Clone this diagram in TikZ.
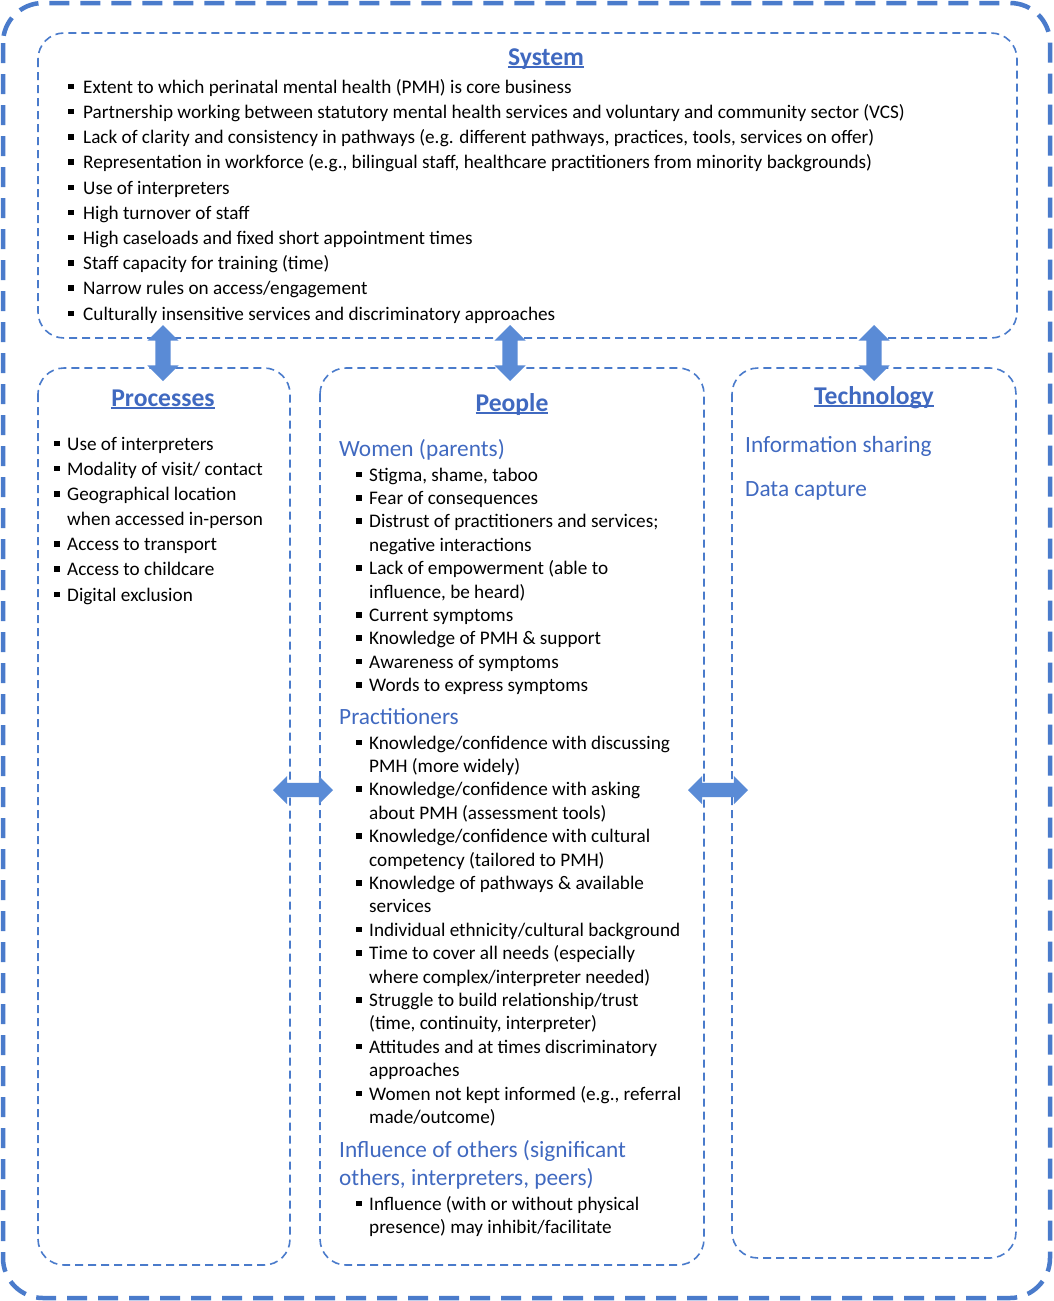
\documentclass[tikz,border=0pt]{standalone}
\usepackage{fontspec}
\setmainfont{Carlito}
\usetikzlibrary{shapes.arrows,positioning}

\definecolor{accent}{HTML}{4069C0}
\definecolor{framecol}{HTML}{4A7BCB}
\definecolor{arrowcol}{HTML}{5A8BD6}

\newlength\bulw
\newcommand\bul{\strut\makebox[\bulw][l]{\raisebox{4pt}{\rule{5.5pt}{5.5pt}}}}
\newcommand\cont{\strut\hspace*{\bulw}}
\newcommand\ulhead[1]{\setbox0\hbox{#1}\rlap{\rule[-3pt]{\wd0}{1.6pt}}\box0}

\begin{document}
\begin{tikzpicture}[
    x=1pt, y=-1pt,
    outerbox/.style={draw=framecol, line width=4.5pt, dash pattern=on 20pt off 11pt, rounded corners=40pt},
    area/.style={draw=framecol, line width=1.6pt, dash pattern=on 8pt off 5pt, rounded corners=26pt},
    heading/.style={anchor=base, inner sep=0, text=accent, font=\fontsize{25.6}{30}\selectfont\bfseries},
    subhead/.style={anchor=base west, inner sep=0, text=accent, align=left, font=\fontsize{23.3}{28}\selectfont},
    items/.style 2 args={anchor=north west, inner sep=0, align=left, font=\fontsize{19.2}{#1}\selectfont\setlength\bulw{#2}},
    dblarrow/.style={double arrow, fill=arrowcol, draw=none, inner xsep=0, inner ysep=7.5pt, double arrow head extend=8pt, minimum height=56pt}
]
\useasboundingbox (0,0) rectangle (1053,1301);

% frames
\draw[outerbox] (3,3) rectangle (1050,1298);
\draw[area] (38,33) rectangle (1017,338);
\draw[area] (38,368) rectangle (290,1265);
\draw[area] (320,368) rectangle (704,1265);
\draw[area] (732,368) rectangle (1016,1258);

% system
\node[heading] (system) at (546,65) {\ulhead{System}};
\node[items={25.2}{15pt}] (syslist) at (68,75.4) {%
\bul Extent to which perinatal mental health (PMH) is core business\\
\bul Partnership working between statutory mental health services and voluntary and community sector (VCS)\\
\bul Lack of clarity and consistency in pathways (e.g. different pathways, practices, tools, services on offer)\\
\bul Representation in workforce (e.g., bilingual staff, healthcare practitioners from minority backgrounds)\\
\bul Use of interpreters\\
\bul High turnover of staff\\
\bul High caseloads and fixed short appointment times\\
\bul Staff capacity for training (time)\\
\bul Narrow rules on access/engagement\\
\bul Culturally insensitive services and discriminatory approaches};

% processes
\node[heading] (processes) at (163,406) {\ulhead{Processes}};
\node[items={25.15}{13pt}] (proclist) at (54,432.4) {%
\bul Use of interpreters\\
\bul Modality of visit/ contact\\
\bul Geographical location\\
\cont when accessed in-person\\
\bul Access to transport\\
\bul Access to childcare\\
\bul Digital exclusion};

% people
\node[heading] (people) at (512,411) {\ulhead{People}};
\node[subhead] (women) at (339,456) {Women (parents)};
\node[items={23.4}{13pt}] (womenlist) at (356,464.6) {%
\bul Stigma, shame, taboo\\
\bul Fear of consequences\\
\bul Distrust of practitioners and services;\\
\cont negative interactions\\
\bul Lack of empowerment (able to\\
\cont influence, be heard)\\
\bul Current symptoms\\
\bul Knowledge of PMH \& support\\
\bul Awareness of symptoms\\
\bul Words to express symptoms};
\node[subhead] (pract) at (339,724) {Practitioners};
\node[items={23.4}{13pt}] (practlist) at (356,732.6) {%
\bul Knowledge/confidence with discussing\\
\cont PMH (more widely)\\
\bul Knowledge/confidence with asking\\
\cont about PMH (assessment tools)\\
\bul Knowledge/confidence with cultural\\
\cont competency (tailored to PMH)\\
\bul Knowledge of pathways \& available\\
\cont services\\
\bul Individual ethnicity/cultural background\\
\bul Time to cover all needs (especially\\
\cont where complex/interpreter needed)\\
\bul Struggle to build relationship/trust\\
\cont (time, continuity, interpreter)\\
\bul Attitudes and at times discriminatory\\
\cont approaches\\
\bul Women not kept informed (e.g., referral\\
\cont made/outcome)};
\node[subhead] (others) at (339,1185) {Influence of others (significant\\others, interpreters, peers)};
\node[items={23.4}{13pt}] (otherslist) at (356,1193.6) {%
\bul Influence (with or without physical\\
\cont presence) may inhibit/facilitate};

% technology
\node[heading] (tech) at (874,404) {\ulhead{Technology}};
\node[subhead] (share) at (745,452) {Information sharing};
\node[subhead] (capture) at (745,496) {Data capture};

% arrows between areas
\node[dblarrow, rotate=90] (sysproc) at (163,353) {};
\node[dblarrow, rotate=90] (syspeople) at (510,353) {};
\node[dblarrow, rotate=90] (systech) at (874,353) {};
\node[dblarrow, inner ysep=7pt, double arrow head extend=7pt, minimum height=60pt] (procpeople) at (303,790) {};
\node[dblarrow, inner ysep=7pt, double arrow head extend=7pt, minimum height=60pt] (peopletech) at (718,790) {};
\end{tikzpicture}
\end{document}
